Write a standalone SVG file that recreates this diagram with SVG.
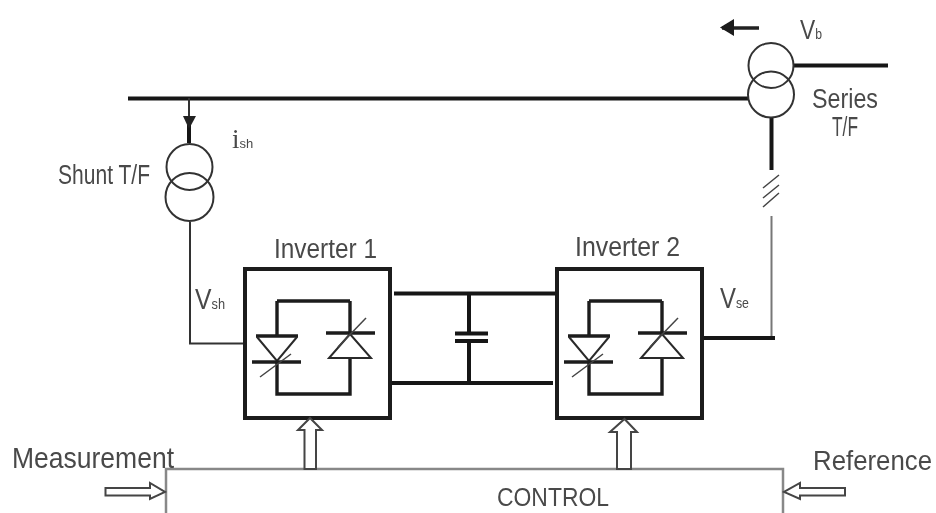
<svg xmlns="http://www.w3.org/2000/svg" width="936" height="513" viewBox="0 0 936 513">
<defs>
<filter id="soft" x="-5%" y="-5%" width="110%" height="110%"><feGaussianBlur stdDeviation="0.55"/></filter>
<g id="leg">
<path class="m" d="M277 301H350"/>
<path class="m" d="M277 301V336M277 362V394H350V358M350 301V333"/>
<path class="m" d="M256 336H298"/>
<path class="l" d="M257 337L277 361L297 337"/>
<path class="m" d="M252 362H301"/>
<path class="t" d="M260 377L291 354"/>
<path class="m" d="M326 333H375"/>
<path class="l" d="M350 334L329 358H371Z"/>
<path class="t" d="M338 347L366 318"/>
</g>
</defs>
<style>
text{font-family:"Liberation Sans",Arial,sans-serif;fill:#4a4a4a}
.m{fill:none;stroke:#1c1c1c;stroke-width:3.4}
.l{fill:none;stroke:#2a2a2a;stroke-width:2}
.t{fill:none;stroke:#444;stroke-width:1.5}
.b{fill:none;stroke:#151515;stroke-width:4}
.c{fill:none;stroke:#333;stroke-width:2}
.box{fill:#fff;stroke:#1c1c1c;stroke-width:4}
.h{fill:#fff;stroke:#444;stroke-width:2}
.g{fill:none;stroke:#777;stroke-width:2}
</style>
<rect width="936" height="513" fill="#fff"/>
<g filter="url(#soft)">
<g id="connectors">
<path class="b" d="M128 98.500H748"/>
<path class="c" d="M189 98V130"/>
<path class="b" d="M189 125V143"/>
<path d="M183 116H196L189 129Z" fill="#222"/>
<path class="c" d="M190 222V343.500H245"/>
<path class="b" d="M794 65.500H888"/>
<path class="b" d="M771.500 118V170"/>
<path class="t" d="M763 188L779 175M763 198L779 185M763 207L779 193" stroke-width="2.200"/>
<path class="g" d="M771.500 216V338"/>
<path class="b" d="M702 338H775"/>
<path class="b" d="M394 293.500H556"/>
<path class="b" d="M390 383H553"/>
<path class="b" d="M469 293V333M469 341V383"/>
<path class="b" d="M455 333.500H488M455 341H488"/>
<path d="M759 28H722" stroke="#222" stroke-width="3.500" fill="none"/>
<path d="M720 27.500L734 19V36Z" fill="#1a1a1a"/>
</g>
<g id="shunt-tf">
<circle class="c" cx="189.500" cy="167" r="23"/>
<circle class="c" cx="189.500" cy="197" r="24"/>
<text x="58" y="184" font-size="27" textLength="92" lengthAdjust="spacingAndGlyphs">Shunt T/F</text>
<text x="232" y="148" font-size="27" style="font-family:'Liberation Serif',serif">i<tspan font-size="13" style="font-family:'Liberation Sans',sans-serif">sh</tspan></text>
</g>
<g id="series-tf">
<circle class="c" cx="771" cy="65.500" r="22.500"/>
<circle class="c" cx="771" cy="94.500" r="23"/>
<text x="812" y="108" font-size="28" textLength="66" lengthAdjust="spacingAndGlyphs">Series</text>
<text x="832" y="136" font-size="28" textLength="26" lengthAdjust="spacingAndGlyphs">T/F</text>
<text x="800" y="39" font-size="28" textLength="22" lengthAdjust="spacingAndGlyphs">V<tspan font-size="15">b</tspan></text>
</g>
<g id="inverter-1">
<rect class="box" x="245" y="269" width="145" height="149"/>
<use href="#leg"/>
<text x="274" y="258" font-size="27" textLength="103" lengthAdjust="spacingAndGlyphs">Inverter 1</text>
<text x="195" y="309" font-size="29" textLength="30" lengthAdjust="spacingAndGlyphs">V<tspan font-size="15">sh</tspan></text>
</g>
<g id="inverter-2">
<rect class="box" x="557" y="269" width="145" height="149"/>
<use href="#leg" x="312"/>
<text x="575" y="256" font-size="27" textLength="105" lengthAdjust="spacingAndGlyphs">Inverter 2</text>
<text x="720" y="308" font-size="29" textLength="29" lengthAdjust="spacingAndGlyphs">V<tspan font-size="15">se</tspan></text>
</g>
<g id="control">
<path d="M166 513V469H783V513" fill="#fff" stroke="#888" stroke-width="2.500"/>
<text x="497" y="506" font-size="26" textLength="112" lengthAdjust="spacingAndGlyphs">CONTROL</text>
</g>
<g id="arrow-up-1"><path class="h" d="M304.500 469V430H298L310 418L322 430H316V469Z"/></g>
<g id="arrow-up-2"><path class="h" d="M617 469V432H610L624.500 419L637 432H631V469Z" stroke="#666"/></g>
<g id="measurement">
<text x="12" y="468" font-size="29" textLength="162" lengthAdjust="spacingAndGlyphs">Measurement</text>
<path class="h" d="M105.500 488H150V483L165 492L150 499V495.500H105.500Z"/>
</g>
<g id="reference">
<text x="813" y="470" font-size="27" textLength="119" lengthAdjust="spacingAndGlyphs">Reference</text>
<path class="h" d="M845 488H800V483L784 492L800 499V495.500H845Z"/>
</g>
</g>
</svg>
